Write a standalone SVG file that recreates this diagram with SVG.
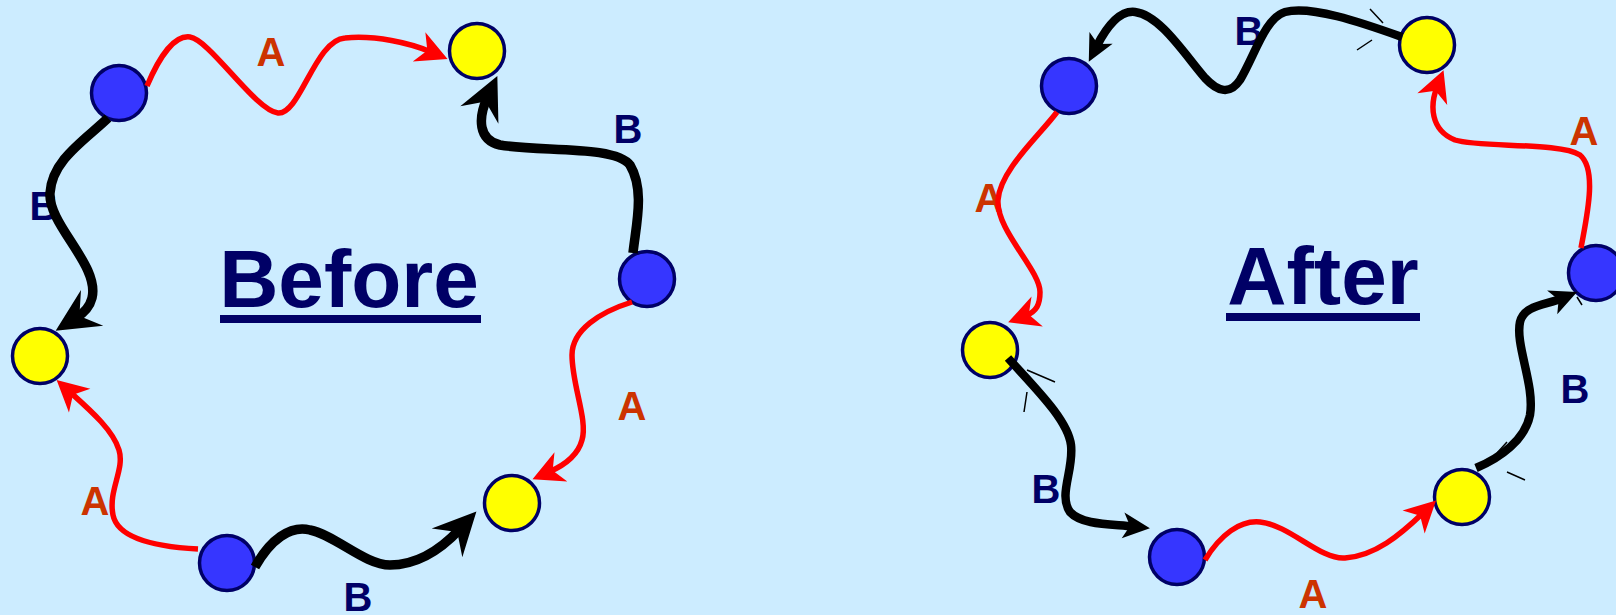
<svg xmlns="http://www.w3.org/2000/svg" width="1616" height="615" viewBox="0 0 1616 615">
<style>
.bg{fill:#CCECFF}
.blue{fill:#3636FF;stroke:#000066;stroke-width:3.5}
.yellow{fill:#FFFF00;stroke:#000066;stroke-width:3.5}
.red{fill:none;stroke:#FF0000;stroke-width:5.5}
.blk{fill:none;stroke:#000000;stroke-width:9.5}
.blk2{fill:none;stroke:#000000;stroke-width:8.5}
.art{fill:none;stroke:#000000;stroke-width:1.5}
.title{font-family:"Liberation Sans",Arial,sans-serif;font-weight:bold;font-size:82px;fill:#000066;text-anchor:middle}
.la{font-family:"Liberation Sans",Arial,sans-serif;font-weight:bold;font-size:40px;fill:#CC3300;text-anchor:middle}
.lb{font-family:"Liberation Sans",Arial,sans-serif;font-weight:bold;font-size:40px;fill:#000066;text-anchor:middle}
.ul{fill:#000066}
</style>
<defs>
<marker id="arRed" markerUnits="userSpaceOnUse" orient="auto" markerWidth="60" markerHeight="60" viewBox="-30 -30 60 60" refX="0" refY="0" overflow="visible">
<path d="M18,0 L-13,-16 L-4,0 L-13,16 Z" fill="#FF0000"/>
</marker>
<marker id="arBig" markerUnits="userSpaceOnUse" orient="auto" markerWidth="60" markerHeight="60" viewBox="-30 -30 60 60" refX="0" refY="0" overflow="visible">
<path d="M24,0 L-19,-21 L-4,0 L-19,21 Z" fill="#000000"/>
</marker>
<marker id="arSmall" markerUnits="userSpaceOnUse" orient="auto" markerWidth="60" markerHeight="60" viewBox="-30 -30 60 60" refX="0" refY="0" overflow="visible">
<path d="M17,0 L-10,-13 L-3,0 L-10,13 Z" fill="#000000"/>
</marker>
</defs>
<rect class="bg" x="0" y="0" width="1616" height="615"/>
<g id="titles">
<text class="title" x="349" y="307">Before</text>
<rect class="ul" x="220" y="315" width="261" height="8"/>
<text class="title" x="1323" y="304">After</text>
<rect class="ul" x="1226" y="313" width="194" height="8"/>
</g>
<g id="labels">
<text class="la" x="271" y="66">A</text>
<text class="lb" x="44" y="220">B</text>
<text class="lb" x="628" y="143">B</text>
<text class="la" x="632" y="420">A</text>
<text class="la" x="95" y="515">A</text>
<text class="lb" x="358" y="611">B</text>
<text class="lb" x="1249" y="45">B</text>
<text class="la" x="1584" y="145">A</text>
<text class="la" x="989" y="212">A</text>
<text class="lb" x="1575" y="403">B</text>
<text class="lb" x="1046" y="503">B</text>
<text class="la" x="1313" y="608">A</text>
</g>
<g id="nodes">
<g id="before-blue-1"><circle class="blue" cx="119" cy="93" r="27.5"/></g>
<g id="before-yellow-1"><circle class="yellow" cx="477" cy="51" r="27.5"/></g>
<g id="before-blue-2"><circle class="blue" cx="647" cy="279" r="27.5"/></g>
<g id="before-yellow-2"><circle class="yellow" cx="512" cy="503" r="27.5"/></g>
<g id="before-blue-3"><circle class="blue" cx="227" cy="563" r="27.5"/></g>
<g id="before-yellow-3"><circle class="yellow" cx="40" cy="356" r="27.5"/></g>
<g id="after-blue-1"><circle class="blue" cx="1069" cy="86" r="27.5"/></g>
<g id="after-yellow-1"><circle class="yellow" cx="1427" cy="45" r="27.5"/></g>
<g id="after-blue-2"><circle class="blue" cx="1596" cy="273" r="27.5"/></g>
<g id="after-yellow-2"><circle class="yellow" cx="1462" cy="497" r="27.5"/></g>
<g id="after-blue-3"><circle class="blue" cx="1177" cy="557" r="27.5"/></g>
<g id="after-yellow-3"><circle class="yellow" cx="990" cy="350" r="27.5"/></g>
</g>
<g id="connectors">
<path class="red" marker-end="url(#arRed)" d="M147,86 C160,55 175,35 190,37 C210,40 255,110 278,113 C300,115 315,40 345,38 C375,35 410,43 431,52"/>
<path class="blk" marker-end="url(#arBig)" d="M633,253 C636,225 645,190 630,165 C615,145 540,152 500,145 C478,140 478,118 487.3,97.8"/>
<path class="red" marker-end="url(#arRed)" d="M632,302 C600,312 572,330 572,355 C572,385 588,420 582,440 C578,455 565,465 549,472"/>
<path class="blk" marker-end="url(#arBig)" d="M255,567 C270,540 290,525 310,530 C335,535 365,565 390,565 C420,565 445,545 460,529"/>
<path class="red" marker-end="url(#arRed)" d="M198,549 C160,547 118,540 113,515 C108,490 125,470 119,450 C113,430 90,410 70,392"/>
<path class="blk" marker-end="url(#arBig)" d="M108,118 C85,140 52,160 50,193 C48,225 100,265 92,298 C90,306 84,313 76,318"/>
<path class="blk2" marker-end="url(#arSmall)" d="M1402,37 C1360,22 1310,5 1285,12 C1265,18 1255,55 1240,80 C1230,95 1218,92 1205,78 C1185,55 1160,15 1135,12 C1118,10 1105,30 1096.5,46.7"/>
<path class="red" marker-end="url(#arRed)" d="M1057,112 C1040,135 1000,170 998,200 C996,230 1040,270 1040,292 C1040,304 1037,311.5 1025,316"/>
<path class="blk2" marker-end="url(#arSmall)" d="M1008,358 C1035,388 1068,420 1071,445 C1074,470 1058,495 1070,512 C1082,525 1110,524 1133,526.4"/>
<path class="red" marker-end="url(#arRed)" d="M1205,560 C1220,535 1240,520 1260,522 C1290,525 1320,560 1345,558 C1375,556 1400,535 1423,513"/>
<path class="blk2" marker-end="url(#arSmall)" d="M1476,468 C1500,458 1525,440 1530,415 C1535,385 1515,345 1520,322 C1524,305 1546,305 1561.4,298.5"/>
<path class="red" marker-end="url(#arRed)" d="M1581,248 C1586,220 1598,170 1580,155 C1560,142 1480,148 1455,140 C1430,130 1430,105 1437,87"/>
<path class="art" d="M1370,9 L1383,23 M1357,50 L1372,40 M1027,370 L1055,382 M1027,392 L1024,412 M1507,472 L1525,480 M1497,453 L1507,442 M1577,297 L1582,305"/>
</g>
</svg>
